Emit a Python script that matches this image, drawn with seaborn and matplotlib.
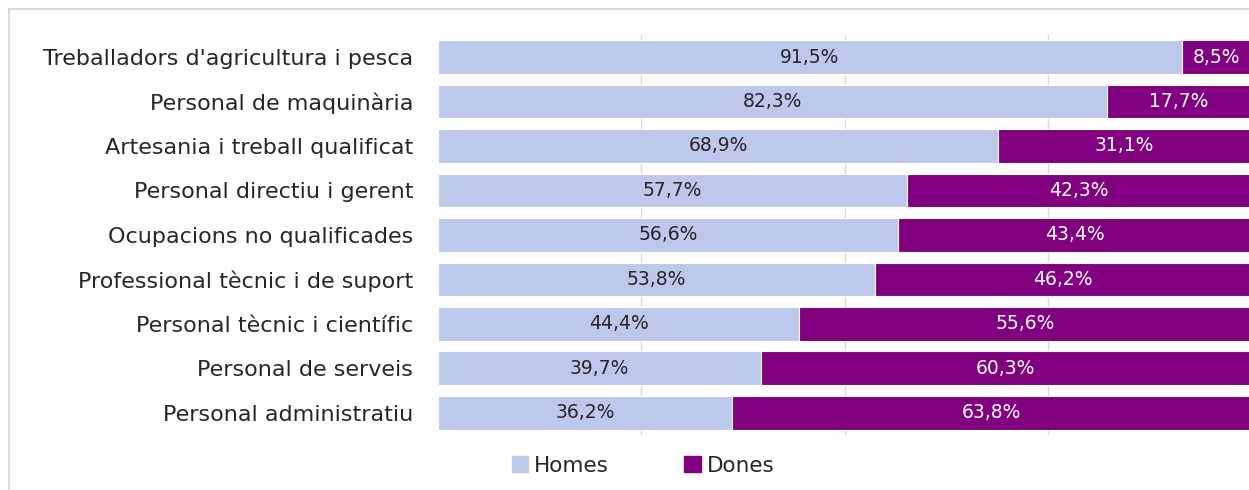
import matplotlib
matplotlib.use("Agg")
import matplotlib.pyplot as plt
import matplotlib.patches as mpatches
import seaborn as sns
import pandas as pd

categories = [
    "Treballadors d'agricultura i pesca",
    "Personal de maquinària",
    "Artesania i treball qualificat",
    "Personal directiu i gerent",
    "Ocupacions no qualificades",
    "Professional tècnic i de suport",
    "Personal tècnic i científic",
    "Personal de serveis",
    "Personal administratiu",
]
homes = [91.5, 82.3, 68.9, 57.7, 56.6, 53.8, 44.4, 39.7, 36.2]
dones = [8.5, 17.7, 31.1, 42.3, 43.4, 46.2, 55.6, 60.3, 63.8]

c_homes = "#BDC9EC"
c_dones = "#800080"

sns.set_theme(style="white")
plt.rcParams["font.family"] = ["DejaVu Sans"]

df = pd.DataFrame({"cat": categories, "homes": homes, "dones": dones})
df["total"] = df["homes"] + df["dones"]

fig = plt.figure(figsize=(12.49, 4.90), dpi=100)
ax = fig.add_axes([0.3507, 0.112, 0.6509, 0.817])

sns.barplot(data=df, x="total", y="cat", orient="h", color=c_dones,
            width=0.76, edgecolor="white", linewidth=0.8, ax=ax, zorder=3,
            saturation=1)
sns.barplot(data=df, x="homes", y="cat", orient="h", color=c_homes,
            width=0.76, edgecolor="white", linewidth=0.8, ax=ax, zorder=4,
            saturation=1)

for i, (h, d) in enumerate(zip(homes, dones)):
    ax.text(h / 2, i, f"{h:.1f}%".replace(".", ","), ha="center", va="center",
            fontsize=13.5, color="#262626", zorder=5)
    ax.text(h + d / 2, i, f"{d:.1f}%".replace(".", ","), ha="center", va="center",
            fontsize=13.5, color="white", zorder=5)

ax.set_xlim(0, 100)
ax.set_ylim(8.5, -0.5)
ax.set_xticks([25, 50, 75])
ax.set_xticklabels([])
ax.xaxis.grid(True, color="#D9D9D9", linewidth=1.0)
ax.set_axisbelow(True)
ax.tick_params(axis="both", length=0)
ax.tick_params(axis="y", labelsize=16, colors="#262626", pad=18)
ax.set_xlabel("")
ax.set_ylabel("")
for s in ax.spines.values():
    s.set_visible(False)

frame = mpatches.Rectangle((9 / 1249, -0.1), 1.2, 1 - 9 / 490 + 0.1,
                           transform=fig.transFigure, fill=False,
                           edgecolor="#D9D9D9", linewidth=1.5, zorder=0)
fig.patches.append(frame)

handles = [mpatches.Patch(color=c_homes, label="Homes"),
           mpatches.Patch(color=c_dones, label="Dones")]
fig.legend(handles=handles, loc="center", bbox_to_anchor=(0.515, 0.05),
           ncol=2, frameon=False, fontsize=15.5, handlelength=0.75,
           handleheight=0.75, handletextpad=0.3, columnspacing=3.5,
           labelcolor="#262626")

fig.savefig("out.png", dpi=100)
